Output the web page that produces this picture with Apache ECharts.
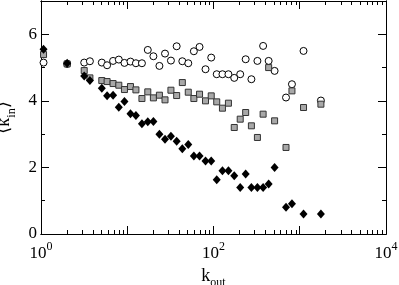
<!DOCTYPE html>
<html>
<head>
<meta charset="utf-8">
<script src="https://cdn.jsdelivr.net/npm/echarts@6/dist/echarts.min.js"></script>
<style>
  html, body { margin: 0; padding: 0; background: #fff; }
  #main { width: 399px; height: 285px; }
</style>
</head>
<body>
<div id="main"></div>
<script>
// k_out bins
var kOut = [1.07, 2.01, 3.17, 3.69, 5.07, 5.84, 6.85, 7.98, 9.28, 10.9, 12.6, 14.8, 17.3, 20.1,
    23.6, 27.4, 32.1, 37.4, 43.5, 51.0, 59.2, 68.9, 80.8, 94.1, 109, 127, 149, 174, 204,
    236, 275, 323, 376, 436, 511, 693, 812, 1106, 1759];

// open circles
var circleY = [5.15, 5.11, 5.15, 5.19, 5.15, 5.07, 5.20, 5.24, 5.14, 5.18, 5.13, 5.13, 5.53, 5.34,
    5.05, 5.42, 5.21, 5.64, 5.19, 5.13, 5.49, 5.62, 4.95, 5.30, 4.80, 4.80, 4.80, 4.69, 4.80,
    5.25, 4.65, 5.20, 5.65, 5.20, 4.90, 4.10, 4.50, 5.50, 4.01];

// grey squares
var squareY = [5.39, 5.11, 4.91, 4.69, 4.61, 4.58, 4.52, 4.47, 4.34, 4.43, 4.33, 4.07, 4.27, 4.09,
    4.17, 4.03, 4.32, 4.16, 4.55, 4.26, 4.07, 4.20, 4.00, 4.15, 3.97, 3.78, 3.93, 3.20, 3.45,
    3.65, 3.25, 2.90, 3.60, 5.00, 3.40, 2.60, 4.30, 3.80, 3.90];

// black diamonds
var diamondY = [5.55, 5.13, 4.75, 4.61, 4.38, 4.15, 4.17, 3.81, 3.98, 3.61, 3.56, 3.31, 3.37, 3.38,
    3.00, 2.85, 2.94, 2.79, 2.56, 2.69, 2.34, 2.34, 2.19, 2.19, 1.63, 1.90, 1.90, 1.75, 1.40,
    1.80, 1.40, 1.40, 1.40, 1.50, 2.00, 0.80, 0.91, 0.60, 0.60];

var xMajor = [1, 10, 100, 1000, 10000];
var xLabels = [1, 100, 10000];
var xMinor = [2, 3, 4, 5, 6, 7, 8, 9, 20, 30, 40, 50, 60, 70, 80, 90,
    200, 300, 400, 500, 600, 700, 800, 900, 2000, 3000, 4000, 5000, 6000, 7000, 8000, 9000];
var yMajor = [0, 2, 4, 6];
var yMinor = [1, 3, 5];

function pairs(ys) {
    return kOut.map(function (x, i) { return [x, ys[i]]; });
}

var font = 'Liberation Serif';
var lineStyle = { color: '#000', width: 1 };

function xAxisDef(pos, ticks, len, labels) {
    return {
        type: 'log', logBase: 10, min: 1, max: 10000, position: pos,
        axisLine: { show: true, onZero: false, lineStyle: lineStyle },
        axisTick: { show: true, inside: true, length: len, customValues: ticks, lineStyle: lineStyle },
        axisLabel: labels ? {
            show: true, margin: 7, customValues: xLabels,
            formatter: function (v) {
                return '{b|10}{s|' + Math.round(Math.log10(v)) + '}';
            },
            rich: {
                b: { fontFamily: font, fontSize: 17, color: '#000', verticalAlign: 'bottom' },
                s: { fontFamily: font, fontSize: 12, color: '#000', verticalAlign: 'bottom', padding: [0, 0, 9, 0] }
            }
        } : { show: false },
        splitLine: { show: false },
        minorTick: { show: false }
    };
}

function yAxisDef(pos, ticks, len, labels) {
    return {
        type: 'value', min: 0, max: 7, position: pos,
        axisLine: { show: true, onZero: false, lineStyle: lineStyle },
        axisTick: { show: true, inside: true, length: len, customValues: ticks, lineStyle: lineStyle },
        axisLabel: labels ? {
            show: true, margin: 4, customValues: yMajor,
            fontFamily: font, fontSize: 17, color: '#000'
        } : { show: false },
        splitLine: { show: false }
    };
}

var xAxes = [
    xAxisDef('bottom', xMajor, 8, true),
    xAxisDef('bottom', xMinor, 4, false),
    xAxisDef('top', xMajor, 8, false),
    xAxisDef('top', xMinor, 4, false)
];
xAxes[0].name = '{k|k}{o|out}';
xAxes[0].nameLocation = 'middle';
xAxes[0].nameGap = 28;
xAxes[0].nameTextStyle = {
    rich: {
        k: { fontFamily: font, fontSize: 18, color: '#000', verticalAlign: 'bottom' },
        o: { fontFamily: font, fontSize: 12, color: '#000', verticalAlign: 'bottom', padding: [0, 0, -4, 0] }
    }
};

var yAxes = [
    yAxisDef('left', yMajor, 8, true),
    yAxisDef('left', yMinor, 4, false),
    yAxisDef('right', yMajor, 8, false),
    yAxisDef('right', yMinor, 4, false)
];
yAxes[0].name = '{a|\u27e8}{k|k}{i|in}{a|\u27e9}';
yAxes[0].nameLocation = 'middle';
yAxes[0].nameRotate = 90;
yAxes[0].nameGap = 24;
yAxes[0].nameTextStyle = {
    rich: {
        a: { fontFamily: 'DejaVu Serif', fontSize: 18, color: '#000', verticalAlign: 'bottom' },
        k: { fontFamily: font, fontSize: 18, color: '#000', verticalAlign: 'bottom' },
        i: { fontFamily: font, fontSize: 12, color: '#000', verticalAlign: 'bottom', padding: [0, 0, -4, 0] }
    }
};

var myChart = echarts.init(document.getElementById('main'));

option = {
    animation: false,
    backgroundColor: '#fff',
    grid: { left: 41, right: 13, top: 1, bottom: 51, outerBoundsMode: 'none' },
    xAxis: xAxes,
    yAxis: yAxes,
    series: [
        {
            name: 'circles', type: 'scatter', data: pairs(circleY),
            symbol: 'circle', symbolSize: 7,
            itemStyle: { color: '#fff', borderColor: '#000', borderWidth: 1, opacity: 1 }
        },
        {
            name: 'squares', type: 'scatter', data: pairs(squareY),
            symbol: 'rect', symbolSize: 6,
            itemStyle: { color: '#a8a8a8', borderColor: '#333', borderWidth: 1, opacity: 1 }
        },
        {
            name: 'diamonds', type: 'scatter', data: pairs(diamondY),
            symbol: 'diamond', symbolSize: [8, 9],
            itemStyle: { color: '#000', opacity: 1 }
        }
    ]
};

myChart.setOption(option);
</script>
</body>
</html>
